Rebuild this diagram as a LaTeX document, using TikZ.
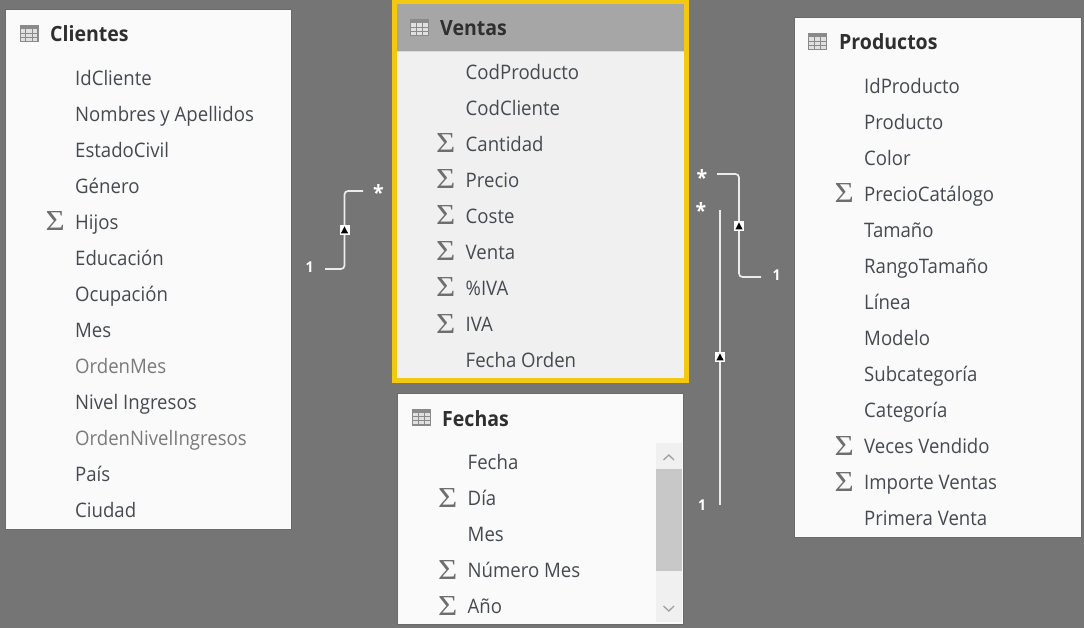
\documentclass[tikz,border=0pt]{standalone}
\usepackage{fontspec}
\setmainfont{Open Sans}
\newfontfamily\sigfont[FakeStretch=1.14]{Liberation Serif}
\newfontfamily\rowfont[FakeStretch=0.93]{Open Sans}
\usetikzlibrary{calc}
\definecolor{bgc}{HTML}{757575}
\definecolor{panelc}{HTML}{FAFAFA}
\definecolor{edgec}{HTML}{6A6A6A}
\definecolor{bodyc}{HTML}{F0F0F0}
\definecolor{headc}{HTML}{A6A6A6}
\definecolor{yelc}{HTML}{F2C811}
\definecolor{txtc}{HTML}{454A50}
\definecolor{dimc}{HTML}{7A7A7A}
\definecolor{titlec}{HTML}{2F2F2F}
\definecolor{iconc}{HTML}{8A8A8A}
\definecolor{sigc}{HTML}{6E6E6E}
\definecolor{thumbc}{HTML}{C8C8C8}
\definecolor{arrc}{HTML}{A0A0A0}
\tikzset{
  x=1pt,y=-1pt,
  panel/.style={anchor=north west,inner sep=0pt,outer sep=0pt,fill=panelc,draw=edgec,line width=1pt},
  rowtext/.style={anchor=base west,inner sep=0pt,font=\rowfont\fontsize{20}{24}\selectfont,text=txtc},
  dimtext/.style={rowtext,text=dimc},
  sigma/.style={anchor=base west,inner sep=0pt,font=\sigfont\fontsize{29}{29}\selectfont,text=sigc},
  titletext/.style={anchor=base west,inner sep=0pt,font=\rowfont\bfseries\fontsize{21}{24}\selectfont,text=titlec},
  card/.style={font=\rowfont\bfseries\fontsize{15}{15}\selectfont,text=white,inner sep=0pt},
  star/.style={card,font=\rowfont\bfseries\fontsize{21}{21}\selectfont},
  rel/.style={draw=white!92!black,line width=1.7pt,rounded corners=3.5pt},
  marker/.style={fill=white,inner sep=0pt,minimum size=10pt,draw=none}
}
\newcommand{\tableicon}[2]{%
  \fill[iconc] (#1,#2) rectangle +(19,17);
  \fill[white!88!black] (#1+1.2,#2+4.5) rectangle +(16.6,11.3);
  \foreach \u in {6.3,12.5} \draw[iconc,line width=.7pt] (#1+\u,#2+4.5) -- +(0,11.3);
  \foreach \v in {8.2,12} \draw[iconc,line width=.7pt] (#1+1,#2+\v) -- +(17,0);
}
\newcommand{\rowitem}[4]{\node[rowtext] (#1) at (#2,#3+7.5) {#4};}
\newcommand{\dimitem}[4]{\node[dimtext] (#1) at (#2,#3+7.5) {#4};}
\newcommand{\sumitem}[4]{%
  \node[rowtext] (#1) at (#2,#3+7.5) {#4};
  \node[sigma] (#1s) at (#2-29.5,#3+9) {Σ};
}
\begin{document}
\begin{tikzpicture}
\useasboundingbox (0,0) rectangle (1084,628);
\fill[bgc] (0,0) rectangle (1084,628);

% Clientes
\node[panel,minimum width=286pt,minimum height=519pt] (clientes) at (5.5,10) {};
\tableicon{19.5}{25}
\node[titletext] (clientesT) at (50,42) {Clientes};
\rowitem{c1}{75}{78}{IdCliente}
\rowitem{c2}{75}{114}{Nombres y Apellidos}
\rowitem{c3}{75}{150}{EstadoCivil}
\rowitem{c4}{75}{186}{Género}
\sumitem{c5}{75}{222}{Hijos}
\rowitem{c6}{75}{258}{Educación}
\rowitem{c7}{75}{294}{Ocupación}
\rowitem{c8}{75}{330}{Mes}
\dimitem{c9}{75}{366}{OrdenMes}
\rowitem{c10}{75}{402}{Nivel Ingresos}
\dimitem{c11}{75}{438}{OrdenNivelIngresos}
\rowitem{c12}{75}{474}{País}
\rowitem{c13}{75}{510}{Ciudad}

% Ventas
\node[panel,fill=yelc,draw=none,minimum width=297pt,minimum height=383pt] (ventasF) at (392,0) {};
\node[panel,fill=bodyc,draw=none,minimum width=287pt,minimum height=374pt] (ventas) at (397,4) {};
\fill[headc] (397,4) rectangle (684,51);
\draw[white!85!black,line width=1pt] (397,51.5) -- (684,51.5);
\tableicon{410}{19}
\node[titletext] (ventasT) at (440,36) {Ventas};
\rowitem{v1}{465.5}{72}{CodProducto}
\rowitem{v2}{465.5}{108}{CodCliente}
\sumitem{v3}{465.5}{144}{Cantidad}
\sumitem{v4}{465.5}{180}{Precio}
\sumitem{v5}{465.5}{216}{Coste}
\sumitem{v6}{465.5}{252}{Venta}
\sumitem{v7}{465.5}{288}{\%IVA}
\sumitem{v8}{465.5}{324}{IVA}
\rowitem{v9}{465.5}{360}{Fecha Orden}

% Fechas
\node[panel,minimum width=286pt,minimum height=231pt] (fechas) at (397.5,393.5) {};
\tableicon{412}{408.5}
\node[titletext] (fechasT) at (442,426) {Fechas};
\rowitem{f1}{467.5}{462}{Fecha}
\sumitem{f2}{467.5}{498}{Día}
\rowitem{f3}{467.5}{534}{Mes}
\sumitem{f4}{467.5}{570}{Número Mes}
\sumitem{f5}{467.5}{606}{Año}
\fill[bodyc] (656,443) rectangle (682,622);
\fill[thumbc] (656,469) rectangle (682,571);
\draw[arrc,line width=1.3pt] (663.5,460) -- (668.8,455) -- (674,460);
\draw[arrc,line width=1.3pt] (663.5,606) -- (668.8,611) -- (674,606);

% Productos
\node[panel,minimum width=287pt,minimum height=519pt] (productos) at (794.5,18) {};
\tableicon{808}{33}
\node[titletext] (productosT) at (839,50) {Productos};
\rowitem{p1}{864}{86}{IdProducto}
\rowitem{p2}{864}{122}{Producto}
\rowitem{p3}{864}{158}{Color}
\sumitem{p4}{864}{194}{PrecioCatálogo}
\rowitem{p5}{864}{230}{Tamaño}
\rowitem{p6}{864}{266}{RangoTamaño}
\rowitem{p7}{864}{302}{Línea}
\rowitem{p8}{864}{338}{Modelo}
\rowitem{p9}{864}{374}{Subcategoría}
\rowitem{p10}{864}{410}{Categoría}
\sumitem{p11}{864}{446}{Veces Vendido}
\sumitem{p12}{864}{482}{Importe Ventas}
\rowitem{p13}{864}{518}{Primera Venta}

% Relationships
\coordinate (r1a) at (325,269);
\coordinate (r1b) at (363,191);
\coordinate (r2a) at (717,174);
\coordinate (r2b) at (761,277);
\coordinate (r3a) at (720,210);
\coordinate (r3b) at (720,505);
\draw[rel] (r1a) -| (344.5,230) |- (r1b);
\draw[rel] (r2a) -| (739,226) |- (r2b);
\draw[rel,rounded corners=0pt] (r3a) -- (r3b);
\node[marker] (m1) at (344.5,230) {};
\node[marker] (m2) at (739,226) {};
\node[marker] (m3) at (720,357) {};
\foreach \m in {m1,m2,m3}
  \fill[black] ($(\m)+(-3.6,3.4)$) -- ($(\m)+(3.6,3.4)$) -- ($(\m)+(0,-3.6)$) -- cycle;
\node[star] (s1) at (378.5,193) {*};
\node[star] (s2) at (702,178) {*};
\node[star] (s3) at (701,211) {*};
\node[card] (o1) at (309.5,267) {1};
\node[card] (o2) at (776.5,275.5) {1};
\node[card] (o3) at (702,505.5) {1};
\end{tikzpicture}
\end{document}
